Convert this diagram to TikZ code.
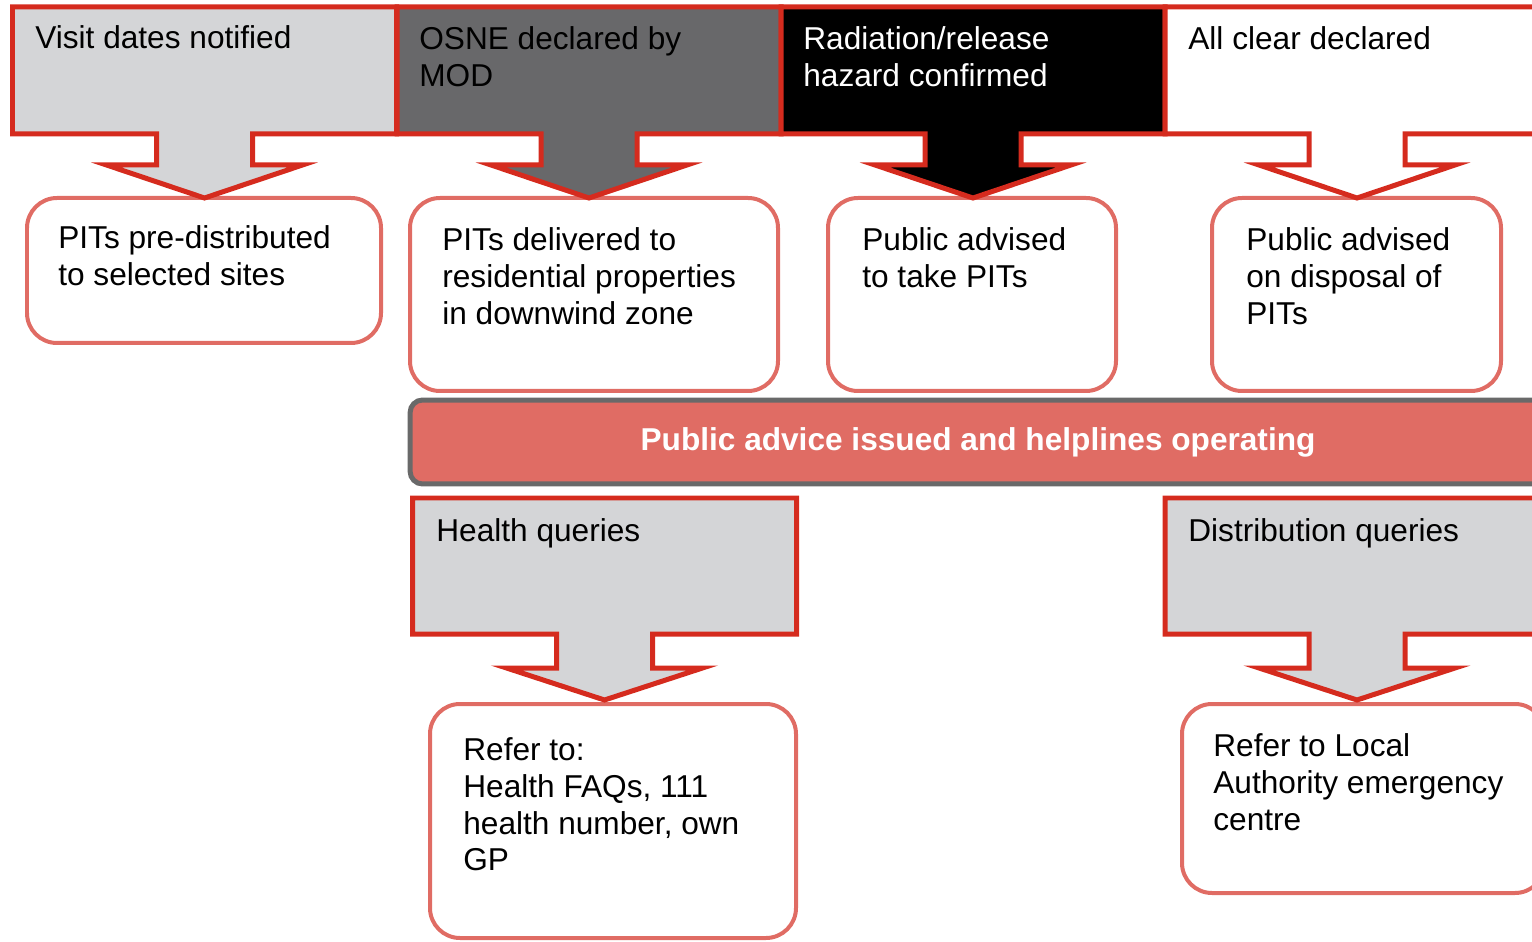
\documentclass[tikz,border=0pt]{standalone}
\usepackage{fontspec}
\setmainfont{Liberation Sans}

\definecolor{hdrred}{RGB}{213,43,30}
\definecolor{boxred}{RGB}{224,108,100}
\definecolor{lgray}{RGB}{212,213,215}
\definecolor{dgray}{RGB}{104,104,106}
\definecolor{bordergray}{RGB}{105,105,105}

% header block with down arrow: centre x, top, rect bottom, stem bottom, tip, fill
\newcommand{\callarrow}[6]{%
  \filldraw[callout, fill=#6]
    (#1-192,#2) -- (#1+192,#2) -- (#1+192,#3) -- (#1+48,#3) -- (#1+48,#4)
    -- (#1+98,#4) -- (#1,#5) -- (#1-98,#4) -- (#1-48,#4) -- (#1-48,#3)
    -- (#1-192,#3) -- cycle;}

\begin{document}
\begin{tikzpicture}[x=0.02cm, y=-0.02cm,
    callout/.style={draw=hdrred, line width=0.1cm, miter limit=10},
    pitbox/.style={draw=boxred, line width=0.08cm, rounded corners=0.6cm},
    banner/.style={draw=bordergray, fill=boxred, line width=0.1cm,
        rounded corners=0.25cm, minimum width=22.72cm, minimum height=1.68cm,
        text=white, font=\fontsize{18}{21}\selectfont\bfseries},
    txt/.style={anchor=north west, inner sep=0pt, align=left,
        font=\fontsize{18}{21}\selectfont}
]
    \useasboundingbox (0,0) rectangle (1532,942);
    \clip (0,0) rectangle (1532,942);

    % PIT boxes (top row)
    \draw[pitbox] (27,198) rectangle (381,343);
    \draw[pitbox] (410,198) rectangle (778,391);
    \draw[pitbox] (828,198) rectangle (1116,391);
    \draw[pitbox] (1212,198) rectangle (1501,391);

    % Stage headers
    \callarrow{204.5}{7}{134}{165}{198}{lgray}
    \callarrow{589}{7}{134}{165}{198}{dgray}
    \callarrow{973}{7}{134}{165}{198}{black}
    \callarrow{1357}{7}{134}{165}{198}{white}

    \node[txt] (visit) at (35,25) {Visit dates notified};
    \node[txt] (osne) at (419,26) {OSNE declared by\\MOD};
    \node[txt, text=white] (hazard) at (803,26) {Radiation/release\\hazard confirmed};
    \node[txt] (clear) at (1188,26) {All clear declared};

    \node[txt] (predist) at (58,225) {PITs pre-distributed\\to selected sites};
    \node[txt] (deliver) at (442,227) {PITs delivered to\\residential properties\\in downwind zone};
    \node[txt] (takepit) at (862,227) {Public advised\\to take PITs};
    \node[txt] (dispose) at (1246,227) {Public advised\\on disposal of\\PITs};

    % Public advice banner
    \node[banner] (advice) at (978,442) {Public advice issued and helplines operating};

    % Query boxes (bottom row)
    \draw[pitbox] (430,704) rectangle (796,938);
    \draw[pitbox] (1182,704) rectangle (1545,893);

    \callarrow{604.5}{498}{634}{668}{700}{lgray}
    \callarrow{1357}{498}{634}{668}{700}{lgray}

    \node[txt] (health) at (436,518) {Health queries};
    \node[txt] (distrib) at (1188,518) {Distribution queries};

    \node[txt] (refhealth) at (463,737) {Refer to:\\Health FAQs, 111\\health number, own\\GP};
    \node[txt] (reflocal) at (1213,733) {Refer to Local\\Authority emergency\\centre};
\end{tikzpicture}
\end{document}
